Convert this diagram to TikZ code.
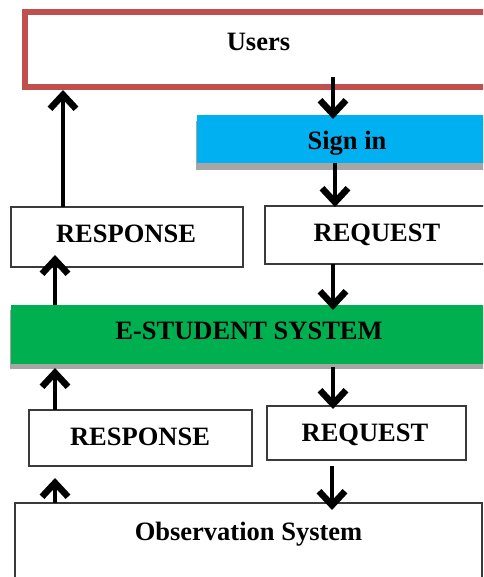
\documentclass[tikz,border=0pt]{standalone}
\usepackage{fontspec}
\setmainfont{Liberation Serif}
\usetikzlibrary{arrows.meta,calc}
\definecolor{usersred}{HTML}{C0504D}
\definecolor{signblue}{HTML}{00B0F0}
\definecolor{sysgreen}{HTML}{00B050}
\definecolor{shadowgray}{HTML}{A6A6A6}
\definecolor{edgegray}{HTML}{3A3A3A}
\begin{document}
\begin{tikzpicture}[x=1pt,y=-1pt,
  box/.style={rectangle, inner sep=0pt, outer sep=0pt},
  plainbox/.style={box, draw=edgegray, line width=1.3pt, fill=white},
  usersbox/.style={box, draw=usersred, line width=6pt},
  title/.style={inner sep=0pt, outer sep=0pt, text height=17.5pt, text depth=0pt,
    font=\bfseries\fontsize{26.5}{30}\selectfont},
  arr/.style={line width=4.5pt, -{Straight Barb[length=14pt,width=26pt,line width=6.5pt]}}]
\useasboundingbox (0,0) rectangle (483,577);
\clip (0,0) rectangle (483,577);

% boxes
\node[usersbox, minimum width=466, minimum height=74.5] (users) at (258,49.75) {};
\fill[shadowgray] (196,121) rectangle (496,170);
\node[box, fill=signblue, minimum width=300, minimum height=48] (signin) at (347,139) {};
\node[plainbox, minimum width=232, minimum height=60] (resp1) at (127,237) {};
\node[plainbox, minimum width=224, minimum height=58] (req1) at (377,235) {};
\fill[shadowgray] (10,310) rectangle (486,369);
\node[box, fill=sysgreen, minimum width=476, minimum height=59] (estud) at (249,334.5) {};
\node[plainbox, minimum width=223, minimum height=56] (resp2) at (140.5,438) {};
\node[plainbox, minimum width=199, minimum height=54] (req2) at (366.5,433) {};
\node[plainbox, minimum width=467, minimum height=120] (obs) at (248.5,563) {};

% titles
\node[title] (tUsers) at (258.5,42) {Users};
\node[title] (tSign) at (347,141) {Sign in};
\node[title] (tResp1) at (126,233.5) {RESPONSE};
\node[title] (tReq1) at (377,233) {REQUEST};
\node[title] (tEstud) at (249,331) {E-STUDENT SYSTEM};
\node[title] (tResp2) at (140,437) {RESPONSE};
\node[title] (tReq2) at (365,432.5) {REQUEST};
\node[title] (tObs) at (248.5,531.5) {Observation System};

% request path (downwards)
\draw[arr] ($(users.south -| 333,0)+(0,-10)$) -- ($(signin.north -| 333,0)+(0,4)$);
\draw[arr] (signin.south -| 335,0) -- ($(req1.north -| 335,0)+(0,1)$);
\draw[arr] (req1.south -| 333,0) -- ($(estud.north -| 333,0)+(0,5)$);
\draw[arr] ($(estud.south -| 333,0)+(0,3)$) -- ($(req2.north -| 333,0)+(0,3)$);
\draw[arr] ($(req2.south -| 332,0)+(0,6)$) -- ($(obs.north -| 332,0)+(0,7)$);

% response path (upwards)
\draw[arr] (obs.north -| 55,0) -- ($(resp2.south -| 55,0)+(0,12)$);
\draw[arr] (resp2.north -| 55,0) -- ($(estud.south -| 55,0)+(0,4)$);
\draw[arr] (estud.north -| 55,0) -- ($(resp1.south -| 55,0)+(0,-12)$);
\draw[arr] (resp1.north -| 63,0) -- ($(users.south -| 63,0)+(0,3)$);
\end{tikzpicture}
\end{document}
